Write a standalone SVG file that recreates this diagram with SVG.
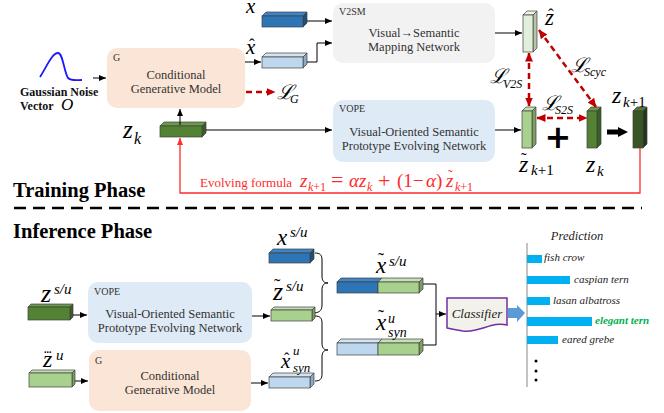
<svg xmlns="http://www.w3.org/2000/svg" width="664" height="413" viewBox="0 0 664 413">
<defs>
<style>
text{font-family:'Liberation Serif','Times New Roman',serif}
.bt{font-size:12.5px;fill:#333;text-anchor:middle}
.tag{font-size:10px;fill:#333}
.m{font-style:italic;fill:#000}
.ln{fill:none;stroke:#000;stroke-width:1}
.loss{fill:none;stroke:#c00000;stroke-width:2.5;stroke-dasharray:6 4}
.loop{fill:none;stroke:#ff2a2a;stroke-width:1.3}
.cb{stroke:#404040;stroke-width:0.7}
.pl{font-size:11px;font-style:italic;fill:#222}
.bar{fill:#00b0f0}
.fr{fill:#ff2a2a}
</style>
<marker id="ah" markerUnits="userSpaceOnUse" markerWidth="7" markerHeight="6" viewBox="0 0 7 6" refX="7" refY="3" orient="auto"><path d="M0,0 L7,3 L0,6 z" fill="#000"/></marker>
<marker id="ahr" markerUnits="userSpaceOnUse" markerWidth="9" markerHeight="8" viewBox="0 0 9 8" refX="8.5" refY="4" orient="auto-start-reverse"><path d="M0,0 L9,4 L0,8 z" fill="#c00000"/></marker>
<marker id="ahl" markerUnits="userSpaceOnUse" markerWidth="7" markerHeight="6" viewBox="0 0 7 6" refX="7" refY="3" orient="auto"><path d="M0,0 L7,3 L0,6 z" fill="#ff2a2a"/></marker>
</defs>
<rect width="664" height="413" fill="#fff"/>

<!-- ===== Training phase ===== -->
<g id="noise">
<path d="M40,77 C47,66 52,53 58,53 C63,53 64,72 68,78 C71,81 76,80 82,80" fill="none" stroke="#1a1aff" stroke-width="1.8"/>
<text x="20" y="96" font-size="12px" font-weight="bold" fill="#111">Gaussian Noise</text>
<text x="20" y="110" font-size="12px" font-weight="bold" fill="#111">Vector</text>
<text x="61" y="110" font-size="17px" class="m">O</text>
</g>

<g id="G-train">
<rect x="107" y="48" width="138" height="60" rx="10" fill="#fbe5d6"/>
<text x="113" y="61" class="tag">G</text>
<text x="176" y="79" class="bt">Conditional</text>
<text x="176" y="93" class="bt">Generative Model</text>
</g>

<g id="LG">
<text x="277" y="99" font-size="20px" class="m">ℒ</text>
<text x="290" y="103" font-size="12px" class="m">G</text>
</g>

<g id="x-train">
<polygon class="cb" points="262,16 266,12 307,12 303,16" fill="#3d85c6"/>
<polygon class="cb" points="303,16 307,12 307,23 303,27" fill="#1f4e79"/>
<rect class="cb" x="262" y="16" width="41" height="11" fill="#2e75b6"/>
<text x="246" y="13" font-size="21px" class="m">x</text>
</g>

<g id="xhat-train">
<polygon class="cb" points="262,57 266,53 307,53 303,57" fill="#d3e3f3"/>
<polygon class="cb" points="303,57 307,53 307,64 303,68" fill="#8ea9c1"/>
<rect class="cb" x="262" y="57" width="41" height="11" fill="#bdd7ee"/>
<text x="246" y="54" font-size="21px" class="m">x</text>
<text x="249" y="50" font-size="17px" fill="#000">ˆ</text>
</g>

<g id="zk-train">
<polygon class="cb" points="160,126 164,122 206,122 202,126" fill="#6b9b48"/>
<polygon class="cb" points="202,126 206,122 206,133 202,137" fill="#3b5e24"/>
<rect class="cb" x="160" y="126" width="42" height="11" fill="#548235"/>
<text x="123" y="138" font-size="25px" class="m">z</text>
<text x="134" y="144" font-size="16px" class="m">k</text>
</g>

<g id="V2SM">
<rect x="333" y="3" width="162" height="60" rx="10" fill="#f2f2f2"/>
<text x="339" y="15" class="tag">V2SM</text>
<text x="414" y="37" class="bt">Visual→Semantic</text>
<text x="414" y="51" class="bt">Mapping Network</text>
</g>

<g id="VOPE-train">
<rect x="333" y="100" width="162" height="62" rx="10" fill="#deeaf6"/>
<text x="339" y="112" class="tag">VOPE</text>
<text x="414" y="136" class="bt">Visual-Oriented Semantic</text>
<text x="414" y="150" class="bt">Prototype Evolving Network</text>
</g>

<g id="zhat">
<polygon class="cb" points="523,15 527,11 537,11 533,15" fill="#eef6e8"/>
<polygon class="cb" points="533,15 537,11 537,48 533,52" fill="#b5c7a8"/>
<rect class="cb" x="523" y="15" width="10" height="37" fill="#e2efda"/>
<text x="545" y="25" font-size="23px" class="m">z</text>
<text x="548" y="20" font-size="17px" fill="#000">ˆ</text>
</g>

<g id="ztilde-k1">
<polygon class="cb" points="522,111 526,107 536,107 532,111" fill="#c5e0b4"/>
<polygon class="cb" points="532,111 536,107 536,144 532,148" fill="#7ba05f"/>
<rect class="cb" x="522" y="111" width="10" height="37" fill="#a9d18e"/>
<text x="519" y="172" font-size="24px" class="m">z</text>
<text x="521" y="164" font-size="17px" fill="#000">˜</text>
<text x="531" y="175" font-size="15px"><tspan class="m">k</tspan><tspan fill="#000">+1</tspan></text>
</g>

<g id="zk-bar">
<polygon class="cb" points="587,111 591,107 601,107 597,111" fill="#6b9b48"/>
<polygon class="cb" points="597,111 601,107 601,144 597,148" fill="#3b5e24"/>
<rect class="cb" x="587" y="111" width="10" height="37" fill="#548235"/>
<text x="586" y="172" font-size="24px" class="m">z</text>
<text x="597" y="176" font-size="15px" class="m">k</text>
</g>

<g id="zk1">
<polygon class="cb" points="633,111 637,107 647,107 643,111" fill="#4f7a35"/>
<polygon class="cb" points="643,111 647,107 647,144 643,148" fill="#22361a"/>
<rect class="cb" x="633" y="111" width="10" height="37" fill="#375623"/>
<text x="612" y="103" font-size="24px" class="m">z</text>
<text x="623" y="107" font-size="15px"><tspan class="m">k</tspan><tspan fill="#000">+1</tspan></text>
</g>

<g id="loss-labels">
<text x="490" y="83" font-size="20px" class="m">ℒ</text>
<text x="503" y="88" font-size="12px" class="m">V2S</text>
<text x="571" y="72" font-size="20px" class="m">ℒ</text>
<text x="584" y="76" font-size="12px" class="m">Scyc</text>
<text x="542" y="110" font-size="20px" class="m">ℒ</text>
<text x="555" y="114" font-size="12px" class="m">S2S</text>
<text x="558" y="148" font-size="32px" font-weight="bold" text-anchor="middle" style="font-family:'DejaVu Sans',sans-serif">+</text>
</g>

<g id="formula">
<text x="200" y="187" font-size="13px" class="fr">Evolving formula</text>
<text x="300" y="187" font-size="19px" font-style="italic" class="fr">z</text>
<text x="308" y="191" font-size="12px" class="fr"><tspan font-style="italic">k</tspan>+1</text>
<text x="331" y="187" font-size="22px" class="fr">=</text>
<text x="349" y="187" font-size="19px" font-style="italic" class="fr">αz</text>
<text x="367" y="191" font-size="12px" font-style="italic" class="fr">k</text>
<text x="378" y="188" font-size="22px" class="fr">+</text>
<text x="397" y="187" font-size="19px" class="fr">(1</text>
<text x="413" y="187" font-size="19px" class="fr">−</text>
<text x="426" y="187" font-size="19px" class="fr"><tspan font-style="italic">α</tspan>)</text>
<text x="446" y="187" font-size="19px" font-style="italic" class="fr">z</text>
<text x="448" y="180" font-size="14px" class="fr">˜</text>
<text x="455" y="191" font-size="12px" class="fr"><tspan font-style="italic">k</tspan>+1</text>
</g>

<g id="connectors-train">
<line class="ln" x1="93" y1="78" x2="106" y2="78" marker-end="url(#ah)"/>
<line class="ln" x1="245" y1="62" x2="261" y2="62" marker-end="url(#ah)"/>
<line class="ln" x1="307" y1="21" x2="332" y2="21" marker-end="url(#ah)"/>
<polyline class="ln" points="307,62 317,62 317,43 332,43" marker-end="url(#ah)"/>
<line class="ln" x1="180" y1="125" x2="180" y2="109" marker-end="url(#ah)"/>
<line class="ln" x1="206" y1="130" x2="332" y2="130" marker-end="url(#ah)"/>
<line class="ln" x1="495" y1="33" x2="522" y2="33" marker-end="url(#ah)"/>
<line class="ln" x1="495" y1="130" x2="521" y2="130" marker-end="url(#ah)"/>
<line class="loss" x1="246" y1="92" x2="275" y2="92" marker-end="url(#ahr)"/>
<line class="loss" x1="529" y1="53" x2="529" y2="106" marker-start="url(#ahr)" marker-end="url(#ahr)"/>
<line class="loss" x1="539" y1="30" x2="596" y2="107" marker-start="url(#ahr)" marker-end="url(#ahr)"/>
<line class="loss" x1="537" y1="118" x2="587" y2="118" marker-start="url(#ahr)" marker-end="url(#ahr)"/>
<polygon points="607,129.5 618,129.5 618,127 628,132 618,137 618,134.5 607,134.5" fill="#000"/>
<polyline class="loop" points="640,148 640,193 180,193 180,138" marker-end="url(#ahl)"/>
</g>

<text x="13" y="197" font-size="20.5px" font-weight="bold" fill="#000">Training Phase</text>
<line x1="14" y1="208" x2="642" y2="208" stroke="#000" stroke-width="2.5" stroke-dasharray="12 7"/>
<text x="13" y="238" font-size="20.5px" font-weight="bold" fill="#000">Inference Phase</text>

<!-- ===== Inference phase ===== -->
<g id="zsu">
<polygon class="cb" points="28,307 31,304 73,304 70,307" fill="#6b9b48"/>
<polygon class="cb" points="70,307 73,304 73,317 70,320" fill="#3b5e24"/>
<rect class="cb" x="28" y="307" width="42" height="13" fill="#548235"/>
<text x="41" y="302" font-size="26px" class="m">z</text>
<text x="54" y="294" font-size="15px" class="m">s/u</text>
</g>

<g id="zdddot">
<polygon class="cb" points="29,373 32,370 75,370 72,373" fill="#c5e0b4"/>
<polygon class="cb" points="72,373 75,370 75,384 72,387" fill="#7ba05f"/>
<rect class="cb" x="29" y="373" width="43" height="14" fill="#a9d18e"/>
<text x="43" y="367" font-size="24px" class="m">z</text>
<text x="44" y="353" font-size="10px" font-weight="bold" fill="#000">...</text>
<text x="56" y="360" font-size="15px" class="m">u</text>
</g>

<g id="VOPE-inf">
<rect x="88" y="282" width="164" height="61" rx="10" fill="#deeaf6"/>
<text x="94" y="295" class="tag">VOPE</text>
<text x="170" y="318" class="bt">Visual-Oriented Semantic</text>
<text x="170" y="332" class="bt">Prototype Evolving Network</text>
</g>

<g id="G-inf">
<rect x="89" y="350" width="162" height="61" rx="10" fill="#fbe5d6"/>
<text x="95" y="364" class="tag">G</text>
<text x="170" y="380" class="bt">Conditional</text>
<text x="170" y="394" class="bt">Generative Model</text>
</g>

<g id="xsu">
<polygon class="cb" points="269,253 273,249 314,249 310,253" fill="#3d85c6"/>
<polygon class="cb" points="310,253 314,249 314,259 310,263" fill="#1f4e79"/>
<rect class="cb" x="269" y="253" width="41" height="10" fill="#2e75b6"/>
<text x="277" y="245" font-size="23px" class="m">x</text>
<text x="290" y="237" font-size="15px" class="m">s/u</text>
</g>

<g id="ztsu">
<polygon class="cb" points="271,310 274,307 315,307 312,310" fill="#c5e0b4"/>
<polygon class="cb" points="312,310 315,307 315,318 312,321" fill="#7ba05f"/>
<rect class="cb" x="271" y="310" width="41" height="11" fill="#a9d18e"/>
<text x="273" y="300" font-size="26px" class="m">z</text>
<text x="274" y="292" font-size="19px" fill="#000">˜</text>
<text x="286" y="291" font-size="15px" class="m">s/u</text>
</g>

<g id="xhat-syn">
<polygon class="cb" points="269,377 273,373 314,373 310,377" fill="#d3e3f3"/>
<polygon class="cb" points="310,377 314,373 314,384 310,388" fill="#8ea9c1"/>
<rect class="cb" x="269" y="377" width="41" height="11" fill="#bdd7ee"/>
<text x="281" y="368" font-size="21px" class="m">x</text>
<text x="284" y="364" font-size="16px" fill="#000">ˆ</text>
<text x="293" y="355" font-size="13px" class="m">u</text>
<text x="293" y="372" font-size="13px" class="m">syn</text>
</g>

<g id="xt-su">
<polygon class="cb" points="337,282 341,278 382,278 378,282" fill="#3d85c6"/>
<polygon class="cb" points="378,282 382,278 423,278 419,282" fill="#c5e0b4"/>
<polygon class="cb" points="419,282 423,278 423,289 419,293" fill="#7ba05f"/>
<rect class="cb" x="337" y="282" width="41" height="11" fill="#2e75b6"/>
<rect class="cb" x="378" y="282" width="41" height="11" fill="#a9d18e"/>
<text x="376" y="273" font-size="23px" class="m">x</text>
<text x="378" y="266" font-size="18px" fill="#000">˜</text>
<text x="389" y="266" font-size="15px" class="m">s/u</text>
</g>

<g id="xt-syn">
<polygon class="cb" points="337,343 341,339 382,339 378,343" fill="#d3e3f3"/>
<polygon class="cb" points="378,343 382,339 423,339 419,343" fill="#c5e0b4"/>
<polygon class="cb" points="419,343 423,339 423,351 419,355" fill="#7ba05f"/>
<rect class="cb" x="337" y="343" width="41" height="12" fill="#bdd7ee"/>
<rect class="cb" x="378" y="343" width="41" height="12" fill="#a9d18e"/>
<text x="376" y="330" font-size="23px" class="m">x</text>
<text x="378" y="323" font-size="18px" fill="#000">˜</text>
<text x="388" y="323" font-size="14px" class="m">u</text>
<text x="388" y="337" font-size="14px" class="m">syn</text>
</g>

<g id="classifier">
<path d="M447,298 H507 V325 C492,321 480,333 463,331 C456,330 451,329 447,328 Z" fill="#f2f2ea" stroke="#7030a0" stroke-width="1.5"/>
<text x="477" y="318" font-size="13px" font-style="italic" fill="#222" text-anchor="middle">Classifier</text>
</g>

<g id="prediction">
<text x="577" y="240" font-size="12.5px" font-style="italic" fill="#222" text-anchor="middle">Prediction</text>
<line x1="527" y1="243" x2="527" y2="387" stroke="#888" stroke-width="1"/>
<rect class="bar" x="527" y="255" width="15" height="8"/>
<text x="544" y="261" class="pl">fish crow</text>
<rect class="bar" x="527" y="276" width="43" height="8"/>
<text x="574" y="283" class="pl">caspian tern</text>
<rect class="bar" x="527" y="297" width="23" height="8"/>
<text x="553" y="304" class="pl">lasan albatross</text>
<rect class="bar" x="527" y="317" width="65" height="9"/>
<text x="595" y="324" class="pl" style="fill:#00b050;font-weight:bold">elegant tern</text>
<rect class="bar" x="527" y="336" width="31" height="8"/>
<text x="562" y="343" class="pl">eared grebe</text>
<circle cx="536" cy="361" r="1.5" fill="#000"/>
<circle cx="536" cy="371" r="1.5" fill="#000"/>
<circle cx="536" cy="380" r="1.5" fill="#000"/>
</g>

<g id="connectors-inf">
<line class="ln" x1="73" y1="315" x2="87" y2="315" marker-end="url(#ah)"/>
<line class="ln" x1="75" y1="381" x2="88" y2="381" marker-end="url(#ah)"/>
<line class="ln" x1="252" y1="316" x2="270" y2="316" marker-end="url(#ah)"/>
<line class="ln" x1="251" y1="383" x2="268" y2="383" marker-end="url(#ah)"/>
<path class="ln" stroke-width="1.3" d="M315,253 C320,253 322,255 322,260 V276 C322,281 324,283 328,283 C324,283 322,285 322,290 V305 C322,310 320,312 315,313"/>
<path class="ln" stroke-width="1.3" d="M315,316 C320,316 322,318 322,323 V343 C322,348 324,350 328,350 C324,350 322,352 322,357 V374 C322,379 320,381 315,381"/>
<polyline class="ln" points="423,284 436,284 436,345 423,345"/>
<line class="ln" x1="436" y1="314" x2="446" y2="314" marker-end="url(#ah)"/>
<polygon points="508,308 517,308 517,305 525,313 517,322 517,318 508,318" fill="#5b9bd5"/>
</g>
</svg>
